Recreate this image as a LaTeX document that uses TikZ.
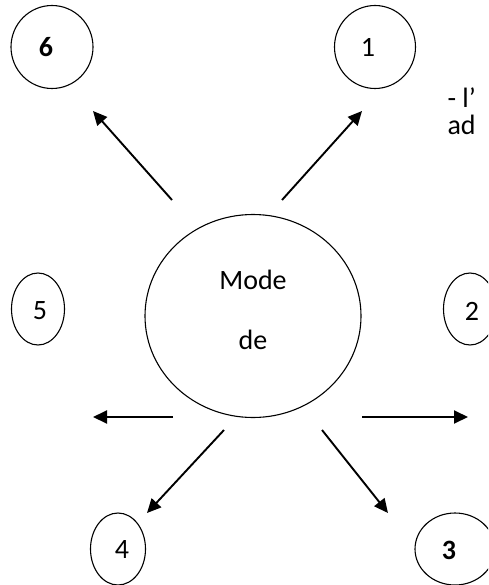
\documentclass[tikz,border=0pt]{standalone}
\usepackage{fontspec}
\setmainfont{Carlito}
\usetikzlibrary{shapes.geometric, arrows.meta}
\tikzstyle{bubble} = [ellipse, draw=black, line width=1.1pt, inner sep=0pt]
\tikzstyle{arrow} = [-{Triangle[length=14pt, width=13pt]}, line width=1.9pt]

\begin{document}
\begin{tikzpicture}[x=1pt, y=-1pt, font=\fontsize{28}{34}\selectfont]
    \useasboundingbox (0,0) rectangle (488,585);
    \clip (0,0) rectangle (488,585);

    % Central ellipse
    \node[bubble, minimum width=216pt, minimum height=203pt] (mode) at (253,316) {};
    \node (modetop) at (253,280) {Mode};
    \node (modebot) at (253,340) {de};

    % Outer ellipses
    \node[bubble, minimum width=82pt, minimum height=83pt] (six) at (52,47) {};
    \node (sixtxt) at (46,47) {\textbf{6}};
    \node[bubble, minimum width=81pt, minimum height=83pt] (one) at (375,47) {};
    \node (onetxt) at (368,47) {1};
    \node[bubble, minimum width=53pt, minimum height=72pt] (five) at (38,309) {};
    \node (fivetxt) at (40,311) {5};
    \node[bubble, minimum width=53pt, minimum height=72pt] (two) at (470,309) {};
    \node (twotxt) at (472,311) {2};
    \node[bubble, minimum width=55pt, minimum height=72pt] (four) at (118,549) {};
    \node (fourtxt) at (122,550) {4};
    \node[bubble, minimum width=80pt, minimum height=72pt] (three) at (455,549) {};
    \node (threetxt) at (449,550) {\textbf{3}};

    % Side note
    \node[anchor=west] (notea) at (444,98) {- l’};
    \node[anchor=west] (noteb) at (444,125) {ad};

    % Arrows
    \coordinate (t1) at (282,200); \coordinate (h1) at (362,111);
    \coordinate (t2) at (362,417); \coordinate (h2) at (468,417);
    \coordinate (t3) at (322,430); \coordinate (h3) at (388,513);
    \coordinate (t4) at (224,430); \coordinate (h4) at (147,513);
    \coordinate (t5) at (173,417); \coordinate (h5) at (93,417);
    \coordinate (t6) at (172,200); \coordinate (h6) at (93,111);
    \foreach \n in {1,...,6}
        \draw[arrow] (t\n) -- (h\n);
\end{tikzpicture}
\end{document}
